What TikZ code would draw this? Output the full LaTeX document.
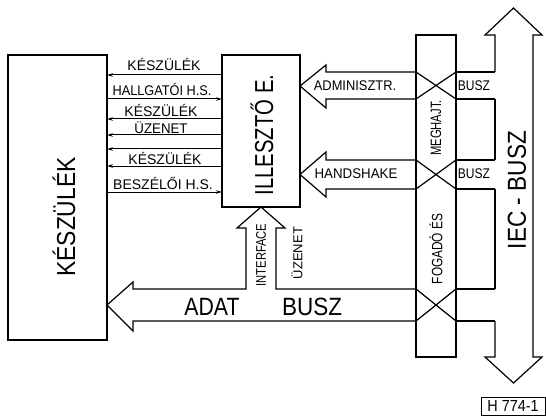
\documentclass[tikz,border=0pt]{standalone}
\usepackage{fontspec}
\usepackage{graphicx}
\setmainfont{Liberation Sans}
\usetikzlibrary{arrows.meta}
\newcommand\narrowtxt[2]{\scalebox{#1}[1]{#2}}
\tikzset{
  ln/.style={line width=1.2pt, line join=miter},
  sig/.style={line width=1pt},
  sigl/.style={sig, {Stealth[length=6pt,width=3.5pt]}-},
  sigr/.style={sig, -{Stealth[length=6pt,width=3.5pt]}},
  lbl/.style={inner sep=0pt, font=\fontsize{14}{14}\selectfont},
  biglbl/.style={inner sep=0pt, font=\fontsize{26}{26}\selectfont},
  midlbl/.style={inner sep=0pt, font=\fontsize{15}{15}\selectfont},
  blk/.style={draw, ln, inner sep=0pt}
}
\begin{document}
\begin{tikzpicture}[x=1pt,y=-1pt]
\useasboundingbox (0,0) rectangle (546,417);
% blocks
\node[blk, minimum width=99pt, minimum height=285pt] (kesz) at (57.5,197.5) {};
\node[blk, minimum width=78pt, minimum height=152pt] (ill) at (261,131) {};
\node[blk, minimum width=40pt, minimum height=322pt] (drv) at (436,196) {};
\node[biglbl, rotate=90] at (64,217) {\narrowtxt{0.88}{KÉSZÜLÉK}};
\node[biglbl, rotate=90] at (262,135) {\narrowtxt{0.78}{ILLESZTŐ E.}};
\node[midlbl, rotate=90] at (436,128) {\narrowtxt{0.75}{MEGHAJT.}};
\node[midlbl, rotate=90] at (436,249) {\narrowtxt{0.79}{FOGADÓ ÉS}};
% signal lines
\foreach \yy/\st in {75/sigl,99/sigr,119/sigl,135/sigl,149/sigl,166/sigl,192/sigr}{
  \coordinate (sa\yy) at (107,\yy);
  \coordinate (sb\yy) at (222,\yy);
  \draw[\st] (sa\yy) -- (sb\yy);
}
\node[lbl] at (164,64) {KÉSZÜLÉK};
\node[lbl] at (162,89) {\narrowtxt{0.91}{HALLGATÓI H.S.}};
\node[lbl] at (161,110) {KÉSZÜLÉK};
\node[lbl] at (161,128) {\narrowtxt{0.95}{ÜZENET}};
\node[lbl] at (165,158) {KÉSZÜLÉK};
\node[lbl] at (163,183) {BESZÉLŐI H.S.};
% IEC bus
\draw[ln] (495,72) -- (495,35) -- (485,35) -- (513.5,8) -- (542,35) -- (533,35)
  -- (533,357) -- (542,357) -- (513.5,383) -- (485,357) -- (495,357) -- (495,321);
\draw[ln] (495,99) -- (495,160);
\draw[ln] (495,189) -- (495,289);
\node[biglbl, rotate=90] at (517,190) {\narrowtxt{0.87}{IEC - BUSZ}};
% ADMINISZTR arrow
\draw[ln] (416,72) -- (326,72) -- (326,65) -- (300,86) -- (326,108) -- (326,99) -- (416,99);
\draw[ln] (416,72) -- (456,99) (416,99) -- (456,72);
\draw[ln] (456,72) -- (495,72) (456,99) -- (495,99);
\node[lbl] at (355,86) {\narrowtxt{0.92}{ADMINISZTR.}};
\node[lbl] at (474,86) {\narrowtxt{0.86}{BUSZ}};
% HANDSHAKE arrow
\draw[ln] (416,160) -- (326,160) -- (326,152) -- (300,174.5) -- (326,197) -- (326,189) -- (416,189);
\draw[ln] (416,160) -- (456,189) (416,189) -- (456,160);
\draw[ln] (456,160) -- (495,160) (456,189) -- (495,189);
\node[lbl] at (356,174) {\narrowtxt{0.95}{HANDSHAKE}};
\node[lbl] at (474,174) {\narrowtxt{0.86}{BUSZ}};
% ADAT BUSZ arrow with interface branch
\draw[ln] (416,289) -- (276,289) -- (276,228) -- (285,228) -- (261,207) -- (237,228)
  -- (246,228) -- (246,289) -- (133,289) -- (133,282) -- (107,305) -- (133,331)
  -- (133,321) -- (416,321);
\draw[ln] (416,289) -- (456,321) (416,321) -- (456,289);
\draw[ln] (456,289) -- (495,289) (456,321) -- (495,321);
\node[inner sep=0pt, font=\fontsize{25}{25}\selectfont] at (212,307) {\narrowtxt{0.85}{ADAT}};
\node[inner sep=0pt, font=\fontsize{25}{25}\selectfont] at (312,307) {\narrowtxt{0.9}{BUSZ}};
\node[inner sep=0pt, font=\fontsize{14}{14}\selectfont, rotate=90] at (261,255) {\narrowtxt{0.8}{INTERFACE}};
\node[inner sep=0pt, font=\fontsize{13}{13}\selectfont, rotate=90] at (297,253) {ÜZENET};
% figure id
\node[draw, line width=0.9pt, minimum width=64pt, minimum height=18pt, inner sep=0pt,
  font=\fontsize{16}{16}\selectfont] (fid) at (513,406) {\narrowtxt{0.9}{H 774-1}};
\end{tikzpicture}
\end{document}
